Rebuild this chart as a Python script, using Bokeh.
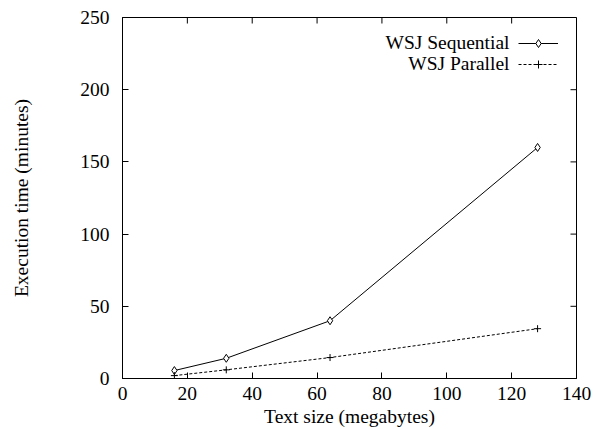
import math
from bokeh.plotting import figure
from bokeh.models import FixedTicker, Legend, LegendItem, Label, Range1d
from bokeh.embed import file_html
from bokeh.resources import INLINE

# Data
text_size = [16, 32, 64, 128]
sequential = [5.5, 14, 40, 160]
parallel = [2, 6, 14.5, 34.5]
x_ticks = [0, 20, 40, 60, 80, 100, 120, 140]
y_ticks = [0, 50, 100, 150, 200, 250]
series_names = ["WSJ Sequential", "WSJ Parallel"]
x_title = "Text size (megabytes)"
y_title = "Execution time (minutes)"

FONT = "Liberation Serif"
FS = "19.5px"

p = figure(frame_width=454, frame_height=361, output_backend="svg", toolbar_location=None,
           x_range=Range1d(x_ticks[0], x_ticks[-1]), y_range=Range1d(y_ticks[0], y_ticks[-1]),
           min_border_left=122, min_border_right=17, min_border_top=17, min_border_bottom=51)
p.grid.visible = False
p.outline_line_color = "black"
p.outline_line_width = 1
p.background_fill_color = "white"
p.border_fill_color = "white"

def style_axis(ax, ticks):
    ax.ticker = FixedTicker(ticks=ticks)
    ax.major_tick_in = 6
    ax.major_tick_out = 0
    ax.minor_tick_line_color = None
    ax.axis_line_color = "black"
    ax.major_tick_line_color = "black"
    ax.major_label_text_font = FONT
    ax.major_label_text_font_size = FS
    ax.major_label_text_color = "black"
    ax.axis_label_text_font = FONT
    ax.axis_label_text_font_size = FS
    ax.axis_label_text_font_style = "normal"
    ax.axis_label_text_color = "black"

xa = p.xaxis[0]
ya = p.yaxis[0]
style_axis(xa, x_ticks)
style_axis(ya, y_ticks)
xa.axis_label = x_title
ya.axis_label = y_title
xa.major_label_standoff = 8
xa.axis_label_standoff = 3
ya.major_label_standoff = 13
ya.axis_label_standoff = 45

# mirrored inward ticks on top and right edges
p.ray(x=x_ticks, y=[y_ticks[-1]] * len(x_ticks), length=6, length_units="screen",
      angle=-math.pi / 2, line_color="black", line_width=1)
p.ray(x=[x_ticks[-1]] * len(y_ticks), y=y_ticks, length=6, length_units="screen",
      angle=math.pi, line_color="black", line_width=1)

l1 = p.line(text_size, sequential, line_color="black", line_width=1)
m1 = p.scatter(text_size, sequential, marker="diamond", size=8, fill_color="white", line_color="black")
l2 = p.line(text_size, parallel, line_color="black", line_width=1, line_dash="3 2")
m2 = p.scatter(text_size, parallel, marker="cross", size=7, line_color="black")

legend = Legend(items=[LegendItem(label=" ", renderers=[l1, m1]),
                       LegendItem(label=" ", renderers=[l2, m2])],
                location=(396, 304), glyph_width=40, glyph_height=20, label_height=20,
                label_width=1, spacing=1, padding=0, margin=0, label_standoff=0,
                border_line_alpha=0, background_fill_alpha=0)
p.add_layout(legend)

for name, ys in zip(series_names, [336, 315]):
    p.add_layout(Label(x=387, y=ys, x_units="screen", y_units="screen", text=name,
                       text_align="right", text_baseline="middle",
                       text_font=FONT, text_font_size=FS, text_color="black"))

open("out.html", "w").write(file_html(p, INLINE))
